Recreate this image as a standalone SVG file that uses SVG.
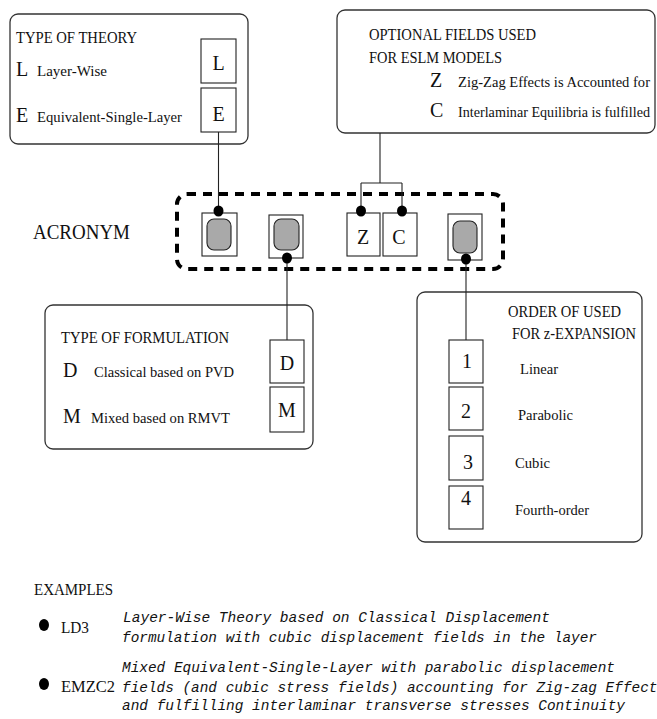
<svg xmlns="http://www.w3.org/2000/svg" width="657" height="719" viewBox="0 0 657 719">
<style>
.panel{fill:#fff;stroke:#333;stroke-width:1.3}
.box{fill:#fff;stroke:#222;stroke-width:1.1}
.gray{fill:#a9a9a9;stroke:#222;stroke-width:1.1}
.t{font-family:"Liberation Serif","Times New Roman",serif;fill:#111}
.h{font-size:16px}
.lab{font-size:15px}
.big{font-size:20px}
.mono{font-family:"Liberation Mono","Courier New",monospace;font-style:italic;font-size:14.4px;fill:#111}
.ln{stroke:#222;stroke-width:1.1;fill:none}
.dot{fill:#000}
.dash{fill:none;stroke:#000;stroke-width:4;stroke-dasharray:9 7}
</style>
<rect width="657" height="719" fill="#fff"/>

<g id="theory">
<rect class="panel" x="10" y="14" width="238" height="130" rx="8"/>
<text class="t h" x="16" y="43" textLength="121" lengthAdjust="spacingAndGlyphs">TYPE OF THEORY</text>
<text class="t big" x="16" y="76">L</text>
<text class="t lab" x="37" y="76" textLength="70" lengthAdjust="spacingAndGlyphs">Layer-Wise</text>
<text class="t big" x="16" y="122">E</text>
<text class="t lab" x="37" y="122" textLength="145" lengthAdjust="spacingAndGlyphs">Equivalent-Single-Layer</text>
<rect class="box" x="201" y="39" width="35" height="44"/>
<text class="t big" x="218.5" y="70" text-anchor="middle">L</text>
<rect class="box" x="201" y="88" width="35" height="44"/>
<text class="t big" x="218.5" y="121" text-anchor="middle">E</text>
</g>

<g id="optional">
<rect class="panel" x="337" y="10" width="318" height="123" rx="8"/>
<text class="t h" x="369" y="40" textLength="167" lengthAdjust="spacingAndGlyphs">OPTIONAL FIELDS USED</text>
<text class="t h" x="369" y="63" textLength="133" lengthAdjust="spacingAndGlyphs">FOR ESLM MODELS</text>
<text class="t big" x="430" y="87">Z</text>
<text class="t lab" x="458" y="87" textLength="192" lengthAdjust="spacingAndGlyphs">Zig-Zag Effects is Accounted for</text>
<text class="t big" x="430" y="117">C</text>
<text class="t lab" x="458" y="117" textLength="192" lengthAdjust="spacingAndGlyphs">Interlaminar Equilibria is fulfilled</text>
</g>

<g id="acronym">
<text class="t" x="33" y="239" font-size="21" textLength="97" lengthAdjust="spacingAndGlyphs">ACRONYM</text>
<rect class="dash" x="177" y="194" width="326" height="75" rx="10"/>
<rect class="box" x="202" y="213" width="35" height="43"/>
<rect class="gray" x="207" y="219" width="24" height="31" rx="7"/>
<rect class="box" x="269" y="215" width="34" height="43"/>
<rect class="gray" x="274" y="219" width="25" height="31" rx="7"/>
<rect class="box" x="347" y="213" width="33" height="43"/>
<text class="t big" x="363" y="244" text-anchor="middle">Z</text>
<rect class="box" x="383" y="213" width="34" height="43"/>
<text class="t big" x="399" y="244" text-anchor="middle">C</text>
<rect class="box" x="448" y="214" width="34" height="46"/>
<rect class="gray" x="453" y="221" width="24" height="32" rx="7"/>
</g>

<g id="formulation">
<rect class="panel" x="45" y="305" width="268" height="144" rx="8"/>
<text class="t h" x="61" y="343" textLength="168" lengthAdjust="spacingAndGlyphs">TYPE OF FORMULATION</text>
<text class="t big" x="63" y="377">D</text>
<text class="t lab" x="94" y="377" textLength="140" lengthAdjust="spacingAndGlyphs">Classical based on PVD</text>
<text class="t big" x="63" y="423">M</text>
<text class="t lab" x="91" y="423" textLength="139" lengthAdjust="spacingAndGlyphs">Mixed based on RMVT</text>
<rect class="box" x="270" y="340" width="34" height="43"/>
<text class="t big" x="287" y="370" text-anchor="middle">D</text>
<rect class="box" x="270" y="387" width="34" height="45"/>
<text class="t big" x="287" y="417" text-anchor="middle">M</text>
</g>

<g id="order">
<rect class="panel" x="417" y="292" width="225" height="250" rx="8"/>
<text class="t h" x="508" y="317" textLength="113" lengthAdjust="spacingAndGlyphs">ORDER OF USED</text>
<text class="t h" x="512" y="339" textLength="124" lengthAdjust="spacingAndGlyphs">FOR z-EXPANSION</text>
<rect class="box" x="449" y="340" width="34" height="43"/>
<text class="t big" x="467" y="368" text-anchor="middle">1</text>
<rect class="box" x="449" y="387" width="34" height="43"/>
<text class="t big" x="466" y="418" text-anchor="middle">2</text>
<rect class="box" x="449" y="436" width="34" height="44"/>
<text class="t big" x="468" y="469" text-anchor="middle">3</text>
<rect class="box" x="449" y="486" width="34" height="43"/>
<text class="t big" x="466" y="505" text-anchor="middle">4</text>
<text class="t lab" x="520" y="374" textLength="38" lengthAdjust="spacingAndGlyphs">Linear</text>
<text class="t lab" x="518" y="420" textLength="55" lengthAdjust="spacingAndGlyphs">Parabolic</text>
<text class="t lab" x="515" y="468" textLength="35" lengthAdjust="spacingAndGlyphs">Cubic</text>
<text class="t lab" x="515" y="515" textLength="74" lengthAdjust="spacingAndGlyphs">Fourth-order</text>
</g>

<g id="connectors">
<path class="ln" d="M218.5 132 V211"/>
<path class="ln" d="M380 133 V183 M361 183 H402 M361 183 V211 M402 183 V211"/>
<path class="ln" d="M287 258 V340"/>
<path class="ln" d="M466 259 V340"/>
<ellipse class="dot" cx="218.5" cy="211" rx="5" ry="5.5"/>
<ellipse class="dot" cx="361" cy="211" rx="5" ry="5.5"/>
<ellipse class="dot" cx="402" cy="211" rx="5" ry="5.5"/>
<ellipse class="dot" cx="287" cy="258" rx="5" ry="5.5"/>
<ellipse class="dot" cx="466" cy="259" rx="5" ry="5.5"/>
</g>

<g id="examples">
<text class="t" x="34" y="595" font-size="16" textLength="79" lengthAdjust="spacingAndGlyphs">EXAMPLES</text>
<ellipse class="dot" cx="44" cy="625" rx="5" ry="6"/>
<text class="t" x="61" y="633" font-size="16" textLength="28" lengthAdjust="spacingAndGlyphs">LD3</text>
<text class="mono" x="123" y="622" textLength="427" lengthAdjust="spacingAndGlyphs">Layer-Wise Theory based on Classical Displacement</text>
<text class="mono" x="122" y="642" textLength="475" lengthAdjust="spacingAndGlyphs">formulation with cubic displacement fields in the layer</text>
<ellipse class="dot" cx="44" cy="684" rx="5" ry="6"/>
<text class="t" x="61" y="692" font-size="16" textLength="54" lengthAdjust="spacingAndGlyphs">EMZC2</text>
<text class="mono" x="122" y="672" textLength="493" lengthAdjust="spacingAndGlyphs">Mixed Equivalent-Single-Layer with parabolic displacement</text>
<text class="mono" x="122" y="692">fields (and cubic stress fields) accounting for Zig-zag Effects</text>
<text class="mono" x="122" y="710" textLength="503" lengthAdjust="spacingAndGlyphs">and fulfilling interlaminar transverse stresses Continuity</text>
</g>
</svg>
